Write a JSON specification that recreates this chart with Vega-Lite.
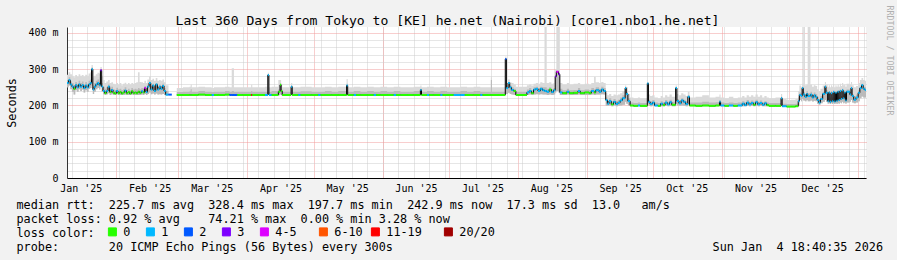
{
  "$schema": "https://vega.github.io/schema/vega-lite/v6.json",
  "width": 799,
  "height": 151,
  "autosize": {"type": "none"},
  "padding": {"left": 67, "top": 27, "right": 31, "bottom": 82},
  "background": "#f2f2f2",
  "config": {"view": {"fill": "#ffffff", "stroke": null}},
  "data": {"values": [
    {"d":"2025-01-09T18:00","m":262,"lo":250,"hi":285,"h2":270,"l":"1"},
    {"d":"2025-01-10T12:00","m":270,"lo":255,"hi":292,"h2":278,"l":"1"},
    {"d":"2025-01-11T06:00","m":258,"lo":245,"hi":286,"h2":266,"l":"1"},
    {"d":"2025-01-12T00:00","m":252,"lo":238,"hi":282,"h2":262,"l":"1"},
    {"d":"2025-01-12T18:00","m":246,"lo":230,"hi":278,"h2":256,"l":"0"},
    {"d":"2025-01-13T12:00","m":256,"lo":242,"hi":284,"h2":265,"l":"1"},
    {"d":"2025-01-14T06:00","m":250,"lo":238,"hi":280,"h2":260,"l":"1"},
    {"d":"2025-01-15T00:00","m":258,"lo":245,"hi":286,"h2":268,"l":"1"},
    {"d":"2025-01-15T18:00","m":252,"lo":240,"hi":282,"h2":262,"l":"1"},
    {"d":"2025-01-16T12:00","m":256,"lo":244,"hi":284,"h2":266,"l":"1"},
    {"d":"2025-01-17T06:00","m":248,"lo":236,"hi":280,"h2":258,"l":"1"},
    {"d":"2025-01-18T00:00","m":255,"lo":242,"hi":285,"h2":265,"l":"1"},
    {"d":"2025-01-18T18:00","m":250,"lo":238,"hi":282,"h2":260,"l":"1"},
    {"d":"2025-01-19T12:00","m":258,"lo":246,"hi":288,"h2":268,"l":"1"},
    {"d":"2025-01-20T06:00","m":262,"lo":248,"hi":292,"h2":272,"l":"1"},
    {"d":"2025-01-20T20:00","m":300,"lo":255,"hi":312,"h2":305,"l":"1"},
    {"d":"2025-01-21T10:00","m":244,"lo":232,"hi":278,"h2":256,"l":"1"},
    {"d":"2025-01-22T00:00","m":252,"lo":238,"hi":282,"h2":262,"l":"1"},
    {"d":"2025-01-22T18:00","m":258,"lo":245,"hi":286,"h2":268,"l":"1"},
    {"d":"2025-01-23T12:00","m":262,"lo":248,"hi":290,"h2":272,"l":"1"},
    {"d":"2025-01-24T06:00","m":256,"lo":244,"hi":288,"h2":266,"l":"1"},
    {"d":"2025-01-24T20:00","m":297,"lo":252,"hi":306,"h2":300,"l":"3"},
    {"d":"2025-01-25T10:00","m":252,"lo":238,"hi":282,"h2":262,"l":"1"},
    {"d":"2025-01-26T00:00","m":240,"lo":231,"hi":270,"h2":252,"l":"1"},
    {"d":"2025-01-26T18:00","m":234,"lo":229,"hi":262,"h2":246,"l":"0"},
    {"d":"2025-01-27T12:00","m":240,"lo":231,"hi":266,"h2":250,"l":"1"},
    {"d":"2025-01-28T06:00","m":252,"lo":234,"hi":270,"h2":258,"l":"1"},
    {"d":"2025-01-29T00:00","m":237,"lo":229,"hi":262,"h2":247,"l":"0"},
    {"d":"2025-01-29T18:00","m":243,"lo":231,"hi":264,"h2":252,"l":"1"},
    {"d":"2025-01-30T12:00","m":235,"lo":229,"hi":260,"h2":245,"l":"0"},
    {"d":"2025-01-31T06:00","m":233,"lo":229,"hi":258,"h2":243,"l":"0"},
    {"d":"2025-02-01T00:00","m":240,"lo":231,"hi":262,"h2":249,"l":"1"},
    {"d":"2025-02-01T18:00","m":234,"lo":229,"hi":258,"h2":244,"l":"0"},
    {"d":"2025-02-02T12:00","m":237,"lo":229,"hi":262,"h2":246,"l":"0"},
    {"d":"2025-02-03T06:00","m":233,"lo":229,"hi":256,"h2":242,"l":"0"},
    {"d":"2025-02-04T00:00","m":236,"lo":229,"hi":260,"h2":245,"l":"0"},
    {"d":"2025-02-04T18:00","m":241,"lo":230,"hi":263,"h2":250,"l":"1"},
    {"d":"2025-02-05T12:00","m":234,"lo":229,"hi":258,"h2":243,"l":"0"},
    {"d":"2025-02-06T06:00","m":237,"lo":229,"hi":262,"h2":246,"l":"0"},
    {"d":"2025-02-07T00:00","m":233,"lo":229,"hi":258,"h2":242,"l":"0"},
    {"d":"2025-02-07T18:00","m":239,"lo":230,"hi":262,"h2":248,"l":"0"},
    {"d":"2025-02-08T12:00","m":234,"lo":229,"hi":260,"h2":244,"l":"0"},
    {"d":"2025-02-09T06:00","m":236,"lo":229,"hi":262,"h2":246,"l":"0"},
    {"d":"2025-02-10T00:00","m":234,"lo":229,"hi":264,"h2":244,"l":"0"},
    {"d":"2025-02-10T18:00","m":238,"lo":229,"hi":292,"h2":248,"l":"0"},
    {"d":"2025-02-11T12:00","m":235,"lo":229,"hi":265,"h2":245,"l":"0"},
    {"d":"2025-02-12T06:00","m":239,"lo":230,"hi":264,"h2":248,"l":"1"},
    {"d":"2025-02-13T00:00","m":236,"lo":229,"hi":262,"h2":246,"l":"0"},
    {"d":"2025-02-13T16:00","m":248,"lo":232,"hi":268,"h2":254,"l":"4-5"},
    {"d":"2025-02-14T08:00","m":237,"lo":229,"hi":262,"h2":246,"l":"1"},
    {"d":"2025-02-15T00:00","m":252,"lo":232,"hi":272,"h2":258,"l":"1"},
    {"d":"2025-02-15T18:00","m":262,"lo":236,"hi":280,"h2":266,"l":"1"},
    {"d":"2025-02-16T12:00","m":244,"lo":231,"hi":270,"h2":254,"l":"1"},
    {"d":"2025-02-17T06:00","m":255,"lo":233,"hi":274,"h2":260,"l":"1"},
    {"d":"2025-02-18T00:00","m":240,"lo":230,"hi":268,"h2":250,"l":"1"},
    {"d":"2025-02-18T18:00","m":258,"lo":233,"hi":276,"h2":262,"l":"1"},
    {"d":"2025-02-19T12:00","m":244,"lo":230,"hi":268,"h2":252,"l":"1"},
    {"d":"2025-02-20T06:00","m":252,"lo":231,"hi":270,"h2":258,"l":"1"},
    {"d":"2025-02-21T00:00","m":246,"lo":230,"hi":268,"h2":254,"l":"1"},
    {"d":"2025-02-21T18:00","m":254,"lo":232,"hi":272,"h2":260,"l":"1"},
    {"d":"2025-02-22T12:00","m":240,"lo":229,"hi":264,"h2":248,"l":"1"},
    {"d":"2025-02-23T06:00","m":230,"lo":228,"hi":256,"h2":240,"l":"1"},
    {"d":"2025-02-24T12:00","m":230,"lo":228,"hi":254,"h2":238,"l":"2"},
    {"d":"2025-02-26T00:00","m":null,"lo":null,"hi":null,"h2":null,"l":"0"},
    {"d":"2025-02-28T06:00","m":229,"lo":228,"hi":248,"h2":237,"l":"0"},
    {"d":"2025-03-03T00:00","m":229,"lo":228,"hi":250,"h2":238,"l":"0"},
    {"d":"2025-03-06T00:00","m":229,"lo":228,"hi":252,"h2":239,"l":"0"},
    {"d":"2025-03-06T12:00","m":229,"lo":228,"hi":258,"h2":245,"l":"0"},
    {"d":"2025-03-07T00:00","m":229,"lo":228,"hi":250,"h2":238,"l":"0"},
    {"d":"2025-03-10T00:00","m":230,"lo":228,"hi":252,"h2":240,"l":"0"},
    {"d":"2025-03-13T00:00","m":229,"lo":228,"hi":250,"h2":238,"l":"0"},
    {"d":"2025-03-16T00:00","m":229,"lo":228,"hi":248,"h2":237,"l":"1"},
    {"d":"2025-03-17T00:00","m":229,"lo":228,"hi":250,"h2":238,"l":"0"},
    {"d":"2025-03-19T00:00","m":229,"lo":228,"hi":250,"h2":238,"l":"0"},
    {"d":"2025-03-22T00:00","m":230,"lo":228,"hi":252,"h2":240,"l":"0"},
    {"d":"2025-03-24T00:00","m":229,"lo":228,"hi":250,"h2":238,"l":"2"},
    {"d":"2025-03-25T00:00","m":229,"lo":228,"hi":303,"h2":240,"l":"2"},
    {"d":"2025-03-26T00:00","m":229,"lo":228,"hi":250,"h2":238,"l":"2"},
    {"d":"2025-03-27T12:00","m":229,"lo":228,"hi":250,"h2":238,"l":"0"},
    {"d":"2025-03-30T00:00","m":229,"lo":228,"hi":250,"h2":238,"l":"0"},
    {"d":"2025-04-02T18:00","m":229,"lo":228,"hi":257,"h2":240,"l":"11-19"},
    {"d":"2025-04-03T06:00","m":229,"lo":228,"hi":250,"h2":238,"l":"0"},
    {"d":"2025-04-06T00:00","m":229,"lo":228,"hi":250,"h2":238,"l":"0"},
    {"d":"2025-04-09T00:00","m":229,"lo":228,"hi":252,"h2":238,"l":"1"},
    {"d":"2025-04-10T06:00","m":284,"lo":232,"hi":290,"h2":286,"l":"1"},
    {"d":"2025-04-10T18:00","m":229,"lo":228,"hi":250,"h2":238,"l":"1"},
    {"d":"2025-04-12T00:00","m":229,"lo":228,"hi":252,"h2":240,"l":"0"},
    {"d":"2025-04-15T00:00","m":238,"lo":228,"hi":270,"h2":245,"l":"0"},
    {"d":"2025-04-15T18:00","m":257,"lo":230,"hi":270,"h2":260,"l":"0"},
    {"d":"2025-04-16T06:00","m":240,"lo":228,"hi":260,"h2":245,"l":"0"},
    {"d":"2025-04-16T18:00","m":229,"lo":228,"hi":250,"h2":238,"l":"0"},
    {"d":"2025-04-20T18:00","m":252,"lo":229,"hi":262,"h2":255,"l":"1"},
    {"d":"2025-04-21T06:00","m":229,"lo":228,"hi":250,"h2":238,"l":"0"},
    {"d":"2025-04-24T00:00","m":229,"lo":228,"hi":250,"h2":238,"l":"1"},
    {"d":"2025-04-25T00:00","m":229,"lo":228,"hi":252,"h2":239,"l":"0"},
    {"d":"2025-04-27T00:00","m":229,"lo":228,"hi":252,"h2":239,"l":"0"},
    {"d":"2025-04-30T00:00","m":229,"lo":228,"hi":250,"h2":238,"l":"0"},
    {"d":"2025-05-03T00:00","m":229,"lo":228,"hi":250,"h2":238,"l":"1"},
    {"d":"2025-05-04T00:00","m":229,"lo":228,"hi":250,"h2":238,"l":"0"},
    {"d":"2025-05-06T00:00","m":229,"lo":228,"hi":252,"h2":240,"l":"0"},
    {"d":"2025-05-09T00:00","m":229,"lo":228,"hi":250,"h2":238,"l":"0"},
    {"d":"2025-05-12T00:00","m":229,"lo":228,"hi":252,"h2":240,"l":"0"},
    {"d":"2025-05-15T18:00","m":255,"lo":230,"hi":273,"h2":260,"l":"1"},
    {"d":"2025-05-16T06:00","m":229,"lo":228,"hi":250,"h2":238,"l":"0"},
    {"d":"2025-05-19T00:00","m":229,"lo":228,"hi":252,"h2":240,"l":"1"},
    {"d":"2025-05-20T00:00","m":229,"lo":228,"hi":252,"h2":240,"l":"0"},
    {"d":"2025-05-22T00:00","m":229,"lo":228,"hi":250,"h2":238,"l":"0"},
    {"d":"2025-05-25T00:00","m":229,"lo":228,"hi":252,"h2":240,"l":"0"},
    {"d":"2025-05-28T00:00","m":229,"lo":228,"hi":250,"h2":238,"l":"1"},
    {"d":"2025-05-29T00:00","m":229,"lo":228,"hi":250,"h2":238,"l":"0"},
    {"d":"2025-05-31T00:00","m":229,"lo":228,"hi":252,"h2":240,"l":"0"},
    {"d":"2025-06-03T00:00","m":229,"lo":228,"hi":250,"h2":238,"l":"0"},
    {"d":"2025-06-06T00:00","m":229,"lo":228,"hi":252,"h2":240,"l":"1"},
    {"d":"2025-06-07T00:00","m":229,"lo":228,"hi":252,"h2":240,"l":"0"},
    {"d":"2025-06-09T00:00","m":229,"lo":228,"hi":250,"h2":238,"l":"0"},
    {"d":"2025-06-12T00:00","m":229,"lo":228,"hi":250,"h2":238,"l":"0"},
    {"d":"2025-06-15T00:00","m":229,"lo":228,"hi":252,"h2":240,"l":"0"},
    {"d":"2025-06-18T00:00","m":243,"lo":229,"hi":255,"h2":246,"l":"1"},
    {"d":"2025-06-18T12:00","m":229,"lo":228,"hi":250,"h2":238,"l":"0"},
    {"d":"2025-06-21T00:00","m":229,"lo":228,"hi":252,"h2":240,"l":"1"},
    {"d":"2025-06-22T00:00","m":229,"lo":228,"hi":252,"h2":240,"l":"0"},
    {"d":"2025-06-24T00:00","m":229,"lo":228,"hi":250,"h2":238,"l":"0"},
    {"d":"2025-06-27T00:00","m":229,"lo":228,"hi":252,"h2":240,"l":"1"},
    {"d":"2025-06-28T00:00","m":229,"lo":228,"hi":252,"h2":240,"l":"0"},
    {"d":"2025-06-30T00:00","m":229,"lo":228,"hi":250,"h2":238,"l":"0"},
    {"d":"2025-07-03T00:00","m":229,"lo":228,"hi":250,"h2":238,"l":"1"},
    {"d":"2025-07-06T00:00","m":229,"lo":228,"hi":252,"h2":240,"l":"1"},
    {"d":"2025-07-08T00:00","m":229,"lo":228,"hi":252,"h2":240,"l":"0"},
    {"d":"2025-07-09T00:00","m":229,"lo":228,"hi":250,"h2":238,"l":"0"},
    {"d":"2025-07-12T00:00","m":229,"lo":228,"hi":252,"h2":240,"l":"0"},
    {"d":"2025-07-15T00:00","m":229,"lo":228,"hi":250,"h2":238,"l":"1"},
    {"d":"2025-07-16T00:00","m":229,"lo":228,"hi":250,"h2":238,"l":"0"},
    {"d":"2025-07-19T18:00","m":229,"lo":228,"hi":278,"h2":270,"l":"0"},
    {"d":"2025-07-20T06:00","m":229,"lo":228,"hi":250,"h2":238,"l":"0"},
    {"d":"2025-07-23T00:00","m":229,"lo":228,"hi":250,"h2":238,"l":"0"},
    {"d":"2025-07-26T06:00","m":328,"lo":232,"hi":335,"h2":330,"l":"2"},
    {"d":"2025-07-26T18:00","m":248,"lo":232,"hi":262,"h2":252,"l":"1"},
    {"d":"2025-07-27T12:00","m":262,"lo":235,"hi":272,"h2":265,"l":"1"},
    {"d":"2025-07-28T06:00","m":250,"lo":232,"hi":265,"h2":255,"l":"1"},
    {"d":"2025-07-29T00:00","m":243,"lo":230,"hi":262,"h2":250,"l":"1"},
    {"d":"2025-07-30T00:00","m":240,"lo":229,"hi":258,"h2":246,"l":"0"},
    {"d":"2025-07-31T00:00","m":229,"lo":228,"hi":252,"h2":238,"l":"0"},
    {"d":"2025-08-05T00:00","m":236,"lo":229,"hi":256,"h2":244,"l":"1"},
    {"d":"2025-08-06T00:00","m":240,"lo":230,"hi":258,"h2":248,"l":"1"},
    {"d":"2025-08-07T00:00","m":234,"lo":229,"hi":255,"h2":242,"l":"0"},
    {"d":"2025-08-08T00:00","m":244,"lo":230,"hi":260,"h2":250,"l":"1"},
    {"d":"2025-08-09T00:00","m":246,"lo":231,"hi":262,"h2":252,"l":"1"},
    {"d":"2025-08-10T00:00","m":240,"lo":230,"hi":260,"h2":248,"l":"1"},
    {"d":"2025-08-11T00:00","m":246,"lo":231,"hi":264,"h2":252,"l":"1"},
    {"d":"2025-08-12T00:00","m":242,"lo":230,"hi":262,"h2":250,"l":"1"},
    {"d":"2025-08-12T22:00","m":240,"lo":230,"hi":450,"h2":250,"l":"1"},
    {"d":"2025-08-13T22:00","m":238,"lo":229,"hi":262,"h2":246,"l":"1"},
    {"d":"2025-08-15T00:00","m":244,"lo":230,"hi":264,"h2":250,"l":"0"},
    {"d":"2025-08-16T00:00","m":237,"lo":229,"hi":260,"h2":245,"l":"1"},
    {"d":"2025-08-17T00:00","m":242,"lo":230,"hi":262,"h2":248,"l":"1"},
    {"d":"2025-08-17T18:00","m":280,"lo":236,"hi":300,"h2":285,"l":"3"},
    {"d":"2025-08-18T06:00","m":293,"lo":240,"hi":450,"h2":296,"l":"4-5"},
    {"d":"2025-08-19T06:00","m":286,"lo":236,"hi":450,"h2":290,"l":"3"},
    {"d":"2025-08-19T20:00","m":236,"lo":229,"hi":262,"h2":246,"l":"1"},
    {"d":"2025-08-21T00:00","m":234,"lo":229,"hi":258,"h2":242,"l":"0"},
    {"d":"2025-08-23T00:00","m":238,"lo":230,"hi":262,"h2":246,"l":"1"},
    {"d":"2025-08-24T00:00","m":234,"lo":229,"hi":258,"h2":242,"l":"0"},
    {"d":"2025-08-26T00:00","m":235,"lo":229,"hi":260,"h2":243,"l":"0"},
    {"d":"2025-08-28T00:00","m":240,"lo":230,"hi":262,"h2":248,"l":"1"},
    {"d":"2025-08-29T00:00","m":234,"lo":229,"hi":258,"h2":242,"l":"0"},
    {"d":"2025-08-31T00:00","m":236,"lo":229,"hi":260,"h2":244,"l":"0"},
    {"d":"2025-09-02T00:00","m":234,"lo":229,"hi":258,"h2":242,"l":"0"},
    {"d":"2025-09-03T00:00","m":240,"lo":230,"hi":262,"h2":248,"l":"1"},
    {"d":"2025-09-04T06:00","m":236,"lo":229,"hi":279,"h2":244,"l":"0"},
    {"d":"2025-09-05T00:00","m":242,"lo":230,"hi":264,"h2":250,"l":"1"},
    {"d":"2025-09-06T12:00","m":238,"lo":230,"hi":262,"h2":246,"l":"1"},
    {"d":"2025-09-07T12:00","m":244,"lo":231,"hi":265,"h2":252,"l":"1"},
    {"d":"2025-09-08T12:00","m":240,"lo":230,"hi":262,"h2":248,"l":"1"},
    {"d":"2025-09-09T12:00","m":215,"lo":199,"hi":235,"h2":222,"l":"1"},
    {"d":"2025-09-10T06:00","m":205,"lo":199,"hi":228,"h2":214,"l":"1"},
    {"d":"2025-09-11T00:00","m":212,"lo":200,"hi":232,"h2":220,"l":"1"},
    {"d":"2025-09-12T00:00","m":203,"lo":198,"hi":226,"h2":212,"l":"0"},
    {"d":"2025-09-13T00:00","m":210,"lo":200,"hi":230,"h2":218,"l":"1"},
    {"d":"2025-09-14T00:00","m":204,"lo":198,"hi":228,"h2":213,"l":"1"},
    {"d":"2025-09-15T00:00","m":208,"lo":199,"hi":230,"h2":216,"l":"1"},
    {"d":"2025-09-16T00:00","m":214,"lo":200,"hi":234,"h2":222,"l":"1"},
    {"d":"2025-09-17T00:00","m":220,"lo":202,"hi":240,"h2":228,"l":"1"},
    {"d":"2025-09-18T06:00","m":248,"lo":210,"hi":255,"h2":250,"l":"1"},
    {"d":"2025-09-18T18:00","m":232,"lo":205,"hi":250,"h2":238,"l":"1"},
    {"d":"2025-09-19T12:00","m":212,"lo":200,"hi":232,"h2":220,"l":"1"},
    {"d":"2025-09-20T12:00","m":200,"lo":198,"hi":222,"h2":208,"l":"0"},
    {"d":"2025-09-22T00:00","m":199,"lo":198,"hi":220,"h2":207,"l":"0"},
    {"d":"2025-09-24T00:00","m":200,"lo":198,"hi":222,"h2":208,"l":"1"},
    {"d":"2025-09-25T00:00","m":199,"lo":198,"hi":220,"h2":207,"l":"0"},
    {"d":"2025-09-28T06:00","m":261,"lo":205,"hi":265,"h2":262,"l":"1"},
    {"d":"2025-09-28T18:00","m":210,"lo":199,"hi":230,"h2":216,"l":"1"},
    {"d":"2025-09-29T12:00","m":204,"lo":198,"hi":226,"h2":212,"l":"1"},
    {"d":"2025-09-30T12:00","m":208,"lo":199,"hi":228,"h2":215,"l":"1"},
    {"d":"2025-10-01T12:00","m":200,"lo":198,"hi":222,"h2":208,"l":"1"},
    {"d":"2025-10-03T00:00","m":199,"lo":198,"hi":220,"h2":207,"l":"0"},
    {"d":"2025-10-04T06:00","m":205,"lo":198,"hi":226,"h2":212,"l":"1"},
    {"d":"2025-10-05T06:00","m":201,"lo":198,"hi":222,"h2":209,"l":"0"},
    {"d":"2025-10-06T06:00","m":208,"lo":199,"hi":228,"h2":215,"l":"1"},
    {"d":"2025-10-07T06:00","m":203,"lo":198,"hi":224,"h2":210,"l":"1"},
    {"d":"2025-10-08T06:00","m":209,"lo":199,"hi":230,"h2":216,"l":"1"},
    {"d":"2025-10-09T06:00","m":202,"lo":198,"hi":224,"h2":210,"l":"0"},
    {"d":"2025-10-11T00:00","m":248,"lo":205,"hi":255,"h2":250,"l":"1"},
    {"d":"2025-10-11T14:00","m":212,"lo":200,"hi":232,"h2":218,"l":"1"},
    {"d":"2025-10-12T12:00","m":206,"lo":199,"hi":228,"h2":214,"l":"1"},
    {"d":"2025-10-13T12:00","m":214,"lo":200,"hi":234,"h2":220,"l":"1"},
    {"d":"2025-10-14T12:00","m":210,"lo":199,"hi":230,"h2":216,"l":"1"},
    {"d":"2025-10-15T12:00","m":204,"lo":198,"hi":226,"h2":212,"l":"1"},
    {"d":"2025-10-16T12:00","m":224,"lo":202,"hi":238,"h2":228,"l":"1"},
    {"d":"2025-10-17T06:00","m":200,"lo":198,"hi":222,"h2":208,"l":"0"},
    {"d":"2025-10-20T00:00","m":199,"lo":198,"hi":224,"h2":208,"l":"0"},
    {"d":"2025-10-23T00:00","m":200,"lo":198,"hi":228,"h2":210,"l":"0"},
    {"d":"2025-10-26T00:00","m":199,"lo":198,"hi":222,"h2":208,"l":"0"},
    {"d":"2025-10-29T00:00","m":200,"lo":198,"hi":224,"h2":209,"l":"0"},
    {"d":"2025-10-30T18:00","m":210,"lo":199,"hi":230,"h2":215,"l":"1"},
    {"d":"2025-10-31T06:00","m":200,"lo":198,"hi":222,"h2":208,"l":"1"},
    {"d":"2025-11-02T00:00","m":199,"lo":198,"hi":220,"h2":207,"l":"0"},
    {"d":"2025-11-04T00:00","m":200,"lo":198,"hi":224,"h2":208,"l":"1"},
    {"d":"2025-11-06T00:00","m":199,"lo":198,"hi":220,"h2":207,"l":"0"},
    {"d":"2025-11-08T00:00","m":200,"lo":198,"hi":222,"h2":208,"l":"1"},
    {"d":"2025-11-10T00:00","m":205,"lo":198,"hi":226,"h2":212,"l":"1"},
    {"d":"2025-11-11T00:00","m":201,"lo":198,"hi":222,"h2":209,"l":"1"},
    {"d":"2025-11-12T00:00","m":208,"lo":199,"hi":228,"h2":215,"l":"1"},
    {"d":"2025-11-13T00:00","m":203,"lo":198,"hi":224,"h2":210,"l":"1"},
    {"d":"2025-11-14T00:00","m":207,"lo":199,"hi":228,"h2":214,"l":"1"},
    {"d":"2025-11-15T00:00","m":202,"lo":198,"hi":224,"h2":210,"l":"0"},
    {"d":"2025-11-16T00:00","m":209,"lo":199,"hi":230,"h2":216,"l":"1"},
    {"d":"2025-11-17T00:00","m":203,"lo":198,"hi":224,"h2":210,"l":"1"},
    {"d":"2025-11-18T00:00","m":207,"lo":199,"hi":228,"h2":214,"l":"1"},
    {"d":"2025-11-19T00:00","m":202,"lo":198,"hi":222,"h2":209,"l":"1"},
    {"d":"2025-11-20T00:00","m":206,"lo":198,"hi":226,"h2":212,"l":"1"},
    {"d":"2025-11-21T00:00","m":201,"lo":198,"hi":222,"h2":208,"l":"0"},
    {"d":"2025-11-22T00:00","m":199,"lo":198,"hi":220,"h2":207,"l":"0"},
    {"d":"2025-11-25T00:00","m":199,"lo":198,"hi":222,"h2":207,"l":"0"},
    {"d":"2025-11-27T12:00","m":220,"lo":199,"hi":232,"h2":224,"l":"1"},
    {"d":"2025-11-28T00:00","m":198,"lo":197,"hi":218,"h2":205,"l":"1"},
    {"d":"2025-11-30T00:00","m":197,"lo":197,"hi":215,"h2":204,"l":"0"},
    {"d":"2025-12-02T00:00","m":197,"lo":197,"hi":216,"h2":204,"l":"0"},
    {"d":"2025-12-04T00:00","m":198,"lo":197,"hi":218,"h2":205,"l":"0"},
    {"d":"2025-12-05T06:00","m":212,"lo":200,"hi":240,"h2":222,"l":"1"},
    {"d":"2025-12-05T18:00","m":229,"lo":215,"hi":255,"h2":236,"l":"1"},
    {"d":"2025-12-06T12:00","m":226,"lo":212,"hi":252,"h2":234,"l":"1"},
    {"d":"2025-12-07T00:00","m":248,"lo":218,"hi":260,"h2":252,"l":"1"},
    {"d":"2025-12-07T12:00","m":230,"lo":214,"hi":450,"h2":238,"l":"1"},
    {"d":"2025-12-08T06:00","m":224,"lo":212,"hi":256,"h2":232,"l":"1"},
    {"d":"2025-12-09T00:00","m":232,"lo":215,"hi":258,"h2":240,"l":"1"},
    {"d":"2025-12-09T12:00","m":226,"lo":212,"hi":450,"h2":234,"l":"1"},
    {"d":"2025-12-10T18:00","m":230,"lo":214,"hi":258,"h2":238,"l":"1"},
    {"d":"2025-12-11T12:00","m":222,"lo":211,"hi":252,"h2":230,"l":"1"},
    {"d":"2025-12-12T06:00","m":228,"lo":213,"hi":256,"h2":236,"l":"1"},
    {"d":"2025-12-13T00:00","m":224,"lo":212,"hi":254,"h2":232,"l":"1"},
    {"d":"2025-12-13T18:00","m":215,"lo":205,"hi":245,"h2":224,"l":"1"},
    {"d":"2025-12-14T12:00","m":208,"lo":202,"hi":240,"h2":218,"l":"1"},
    {"d":"2025-12-15T06:00","m":218,"lo":206,"hi":246,"h2":226,"l":"1"},
    {"d":"2025-12-16T06:00","m":232,"lo":210,"hi":255,"h2":238,"l":"1"},
    {"d":"2025-12-17T06:00","m":252,"lo":215,"hi":265,"h2":256,"l":"1"},
    {"d":"2025-12-17T18:00","m":235,"lo":210,"hi":258,"h2":242,"l":"1"},
    {"d":"2025-12-18T12:00","m":212,"lo":205,"hi":250,"h2":222,"l":"1"},
    {"d":"2025-12-19T00:00","m":236,"lo":206,"hi":256,"h2":240,"l":"1"},
    {"d":"2025-12-19T12:00","m":210,"lo":204,"hi":250,"h2":222,"l":"1"},
    {"d":"2025-12-20T00:00","m":234,"lo":206,"hi":256,"h2":240,"l":"1"},
    {"d":"2025-12-20T12:00","m":212,"lo":204,"hi":252,"h2":222,"l":"1"},
    {"d":"2025-12-21T00:00","m":237,"lo":206,"hi":258,"h2":242,"l":"1"},
    {"d":"2025-12-21T12:00","m":211,"lo":204,"hi":250,"h2":222,"l":"1"},
    {"d":"2025-12-22T00:00","m":235,"lo":206,"hi":256,"h2":240,"l":"1"},
    {"d":"2025-12-22T12:00","m":213,"lo":204,"hi":252,"h2":222,"l":"1"},
    {"d":"2025-12-23T00:00","m":238,"lo":206,"hi":258,"h2":242,"l":"1"},
    {"d":"2025-12-23T12:00","m":215,"lo":205,"hi":252,"h2":224,"l":"1"},
    {"d":"2025-12-24T00:00","m":240,"lo":208,"hi":260,"h2":244,"l":"1"},
    {"d":"2025-12-24T12:00","m":218,"lo":206,"hi":254,"h2":226,"l":"1"},
    {"d":"2025-12-25T00:00","m":242,"lo":210,"hi":262,"h2":246,"l":"1"},
    {"d":"2025-12-25T12:00","m":220,"lo":206,"hi":256,"h2":228,"l":"1"},
    {"d":"2025-12-26T00:00","m":236,"lo":208,"hi":258,"h2":242,"l":"1"},
    {"d":"2025-12-26T12:00","m":214,"lo":205,"hi":252,"h2":224,"l":"1"},
    {"d":"2025-12-27T00:00","m":238,"lo":208,"hi":260,"h2":244,"l":"1"},
    {"d":"2025-12-28T12:00","m":230,"lo":210,"hi":258,"h2":236,"l":"1"},
    {"d":"2025-12-29T00:00","m":248,"lo":215,"hi":265,"h2":252,"l":"1"},
    {"d":"2025-12-29T12:00","m":226,"lo":208,"hi":256,"h2":232,"l":"1"},
    {"d":"2025-12-30T06:00","m":216,"lo":206,"hi":250,"h2":226,"l":"1"},
    {"d":"2025-12-31T06:00","m":222,"lo":208,"hi":254,"h2":230,"l":"1"},
    {"d":"2026-01-01T06:00","m":235,"lo":212,"hi":262,"h2":242,"l":"1"},
    {"d":"2026-01-02T00:00","m":248,"lo":220,"hi":270,"h2":252,"l":"1"},
    {"d":"2026-01-02T18:00","m":256,"lo":225,"hi":276,"h2":260,"l":"1"},
    {"d":"2026-01-03T12:00","m":246,"lo":222,"hi":270,"h2":252,"l":"1"},
    {"d":"2026-01-04T06:00","m":243,"lo":222,"hi":268,"h2":250,"l":"1"},
    {"d":"2026-01-04T18:40","m":243,"lo":222,"hi":268,"h2":250,"l":"1"}
  ]},
  "resolve": {"axis": {"x": "independent", "y": "independent"}},
  "layer": [
    {
      "mark": {"type": "area", "interpolate": "step-after", "color": "#dadada", "clip": true},
      "encoding": {
        "x": {"field": "d", "type": "temporal",
          "scale": {"domain": [{"year": 2025, "month": 1, "date": 9, "hours": 18, "minutes": 40, "seconds": 35}, {"year": 2026, "month": 1, "date": 4, "hours": 18, "minutes": 40, "seconds": 35}]},
          "axis": {"orient": "top", "grid": true, "gridColor": "#cccccc", "gridDash": [1, 1], "gridWidth": 1,
            "tickCount": {"interval": "week", "step": 1}, "labels": false, "ticks": false, "domain": false,
            "title": "Last 360 Days from Tokyo to [KE] he.net (Nairobi) [core1.nbo1.he.net]",
            "titleX": 380, "titleY": -3, "titleAlign": "center", "titleBaseline": "alphabetic", "titleAngle": 0,
            "titleFont": "DejaVu Sans Mono", "titleFontSize": 13.1, "titleFontWeight": "normal", "titleColor": "#000000"}},
        "y": {"field": "lo", "type": "quantitative",
          "scale": {"domain": [0, 416.5], "nice": false, "zero": true},
          "axis": {"orient": "right", "grid": true, "gridColor": "#cccccc", "gridDash": [1, 1],
            "values": [20, 40, 60, 80, 120, 140, 160, 180, 220, 240, 260, 280, 320, 340, 360, 380],
            "labels": false, "ticks": false, "domain": false,
            "title": "RRDTOOL / TOBI OETIKER", "titleAngle": 90, "titleX": 22, "titleY": 33,
            "titleAlign": "center", "titleBaseline": "middle",
            "titleFont": "DejaVu Sans Mono", "titleFontSize": 8.3, "titleFontWeight": "normal", "titleColor": "#b0b0b0"}},
        "y2": {"field": "hi"}
      }
    },
    {
      "mark": {"type": "area", "interpolate": "step-after", "color": "#bababa", "clip": true},
      "encoding": {
        "x": {"field": "d", "type": "temporal",
          "scale": {"domain": [{"year": 2025, "month": 1, "date": 9, "hours": 18, "minutes": 40, "seconds": 35}, {"year": 2026, "month": 1, "date": 4, "hours": 18, "minutes": 40, "seconds": 35}]},
          "axis": {"orient": "bottom", "grid": true, "gridColor": "#f19c9c", "gridDash": [1, 1],
            "values": [
              {"year": 2025, "month": 2, "date": 1}, {"year": 2025, "month": 3, "date": 1}, {"year": 2025, "month": 4, "date": 1},
              {"year": 2025, "month": 5, "date": 1}, {"year": 2025, "month": 6, "date": 1}, {"year": 2025, "month": 7, "date": 1},
              {"year": 2025, "month": 8, "date": 1}, {"year": 2025, "month": 9, "date": 1}, {"year": 2025, "month": 10, "date": 1},
              {"year": 2025, "month": 11, "date": 1}, {"year": 2025, "month": 12, "date": 1}, {"year": 2026, "month": 1, "date": 1}],
            "labels": false, "ticks": false, "domain": true, "domainColor": "#000000", "domainWidth": 1, "title": null}},
        "y": {"field": "lo", "type": "quantitative",
          "scale": {"domain": [0, 416.5], "nice": false, "zero": true},
          "axis": {"orient": "left", "grid": true, "gridColor": "#f19c9c", "gridDash": [1, 1],
            "values": [0, 100, 200, 300, 400],
            "labelExpr": "datum.value == 0 ? '0' : datum.value + ' m'",
            "labelFont": "DejaVu Sans Mono", "labelFontSize": 10, "labelColor": "#000000", "labelPadding": 9,
            "ticks": false, "tickSize": 0, "domain": true, "domainColor": "#333333", "domainWidth": 1,
            "title": "Seconds", "titleAngle": 270, "titleX": -56, "titleY": 75.5, "titleAlign": "center", "titleBaseline": "middle",
            "titleFont": "DejaVu Sans Mono", "titleFontSize": 11.8, "titleFontWeight": "normal", "titleColor": "#000000"}},
        "y2": {"field": "h2"}
      }
    },
    {
      "mark": {"type": "line", "interpolate": "step-after", "color": "#000000", "strokeWidth": 1, "clip": true},
      "encoding": {
        "x": {"field": "d", "type": "temporal",
          "scale": {"domain": [{"year": 2025, "month": 1, "date": 9, "hours": 18, "minutes": 40, "seconds": 35}, {"year": 2026, "month": 1, "date": 4, "hours": 18, "minutes": 40, "seconds": 35}]},
          "axis": {"orient": "bottom", "grid": false, "ticks": false, "domain": false,
            "values": [
              {"year": 2025, "month": 1, "date": 16}, {"year": 2025, "month": 2, "date": 16}, {"year": 2025, "month": 3, "date": 16},
              {"year": 2025, "month": 4, "date": 16}, {"year": 2025, "month": 5, "date": 16}, {"year": 2025, "month": 6, "date": 16},
              {"year": 2025, "month": 7, "date": 16}, {"year": 2025, "month": 8, "date": 16}, {"year": 2025, "month": 9, "date": 16},
              {"year": 2025, "month": 10, "date": 16}, {"year": 2025, "month": 11, "date": 16}, {"year": 2025, "month": 12, "date": 16}],
            "format": "%b '%y", "labelFont": "DejaVu Sans Mono", "labelFontSize": 10, "labelColor": "#000000", "labelPadding": 5,
            "labelOverlap": false, "labelFlush": false,
            "title": [
              "median rtt:\u00a0\u00a0225.7 ms avg\u00a0\u00a0328.4 ms max\u00a0\u00a0197.7 ms min\u00a0\u00a0242.9 ms now\u00a0\u00a017.3 ms sd\u00a0\u00a013.0\u00a0\u00a0\u00a0am/s",
              "packet loss: 0.92 % avg\u00a0\u00a0\u00a0\u00a074.21 % max\u00a0\u00a00.00 % min 3.28 % now",
              "loss color:",
              "probe:\u00a0\u00a0\u00a0\u00a0\u00a0\u00a0\u00a020 ICMP Echo Pings (56 Bytes) every 300s\u00a0\u00a0\u00a0\u00a0\u00a0\u00a0\u00a0\u00a0\u00a0\u00a0\u00a0\u00a0\u00a0\u00a0\u00a0\u00a0\u00a0\u00a0\u00a0\u00a0\u00a0\u00a0\u00a0\u00a0\u00a0\u00a0\u00a0\u00a0\u00a0\u00a0\u00a0\u00a0\u00a0\u00a0\u00a0\u00a0\u00a0\u00a0\u00a0\u00a0\u00a0\u00a0\u00a0\u00a0\u00a0Sun Jan\u00a0\u00a04 18:40:35 2026"
            ],
            "titleX": -51, "titleY": 30.3, "titleAlign": "left", "titleBaseline": "alphabetic", "titleAngle": 0,
            "titleLineHeight": 14, "titleFont": "DejaVu Sans Mono", "titleFontSize": 11.8, "titleFontWeight": "normal", "titleColor": "#000000", "titleLimit": 0}},
        "y": {"field": "m", "type": "quantitative",
          "scale": {"domain": [0, 416.5], "nice": false, "zero": true}, "axis": null}
      }
    },
    {
      "transform": [
        {"window": [{"op": "lead", "field": "d", "as": "e"}], "sort": [{"field": "d", "order": "ascending"}]},
        {"filter": "datum.e != null && datum.m != null"}
      ],
      "mark": {"type": "rule", "strokeWidth": 2, "clip": true},
      "encoding": {
        "x": {"field": "d", "type": "temporal",
          "scale": {"domain": [{"year": 2025, "month": 1, "date": 9, "hours": 18, "minutes": 40, "seconds": 35}, {"year": 2026, "month": 1, "date": 4, "hours": 18, "minutes": 40, "seconds": 35}]},
          "axis": null},
        "x2": {"field": "e"},
        "y": {"field": "m", "type": "quantitative",
          "scale": {"domain": [0, 416.5], "nice": false, "zero": true}, "axis": null},
        "color": {"field": "l", "type": "nominal",
          "scale": {"domain": ["0", "1", "2", "3", "4-5", "6-10", "11-19", "20/20"],
                    "range": ["#26ff00", "#00b8ff", "#0059ff", "#7e00ff", "#dd00ff", "#ff5500", "#ff0000", "#a10000"]},
          "legend": {"orient": "none", "legendX": 39.5, "legendY": 199, "direction": "horizontal", "columns": 8,
            "gridAlign": "none", "title": null,
            "labelFont": "DejaVu Sans Mono", "labelFontSize": 11.8, "labelColor": "#000000", "labelOffset": 5, "labelLimit": 0,
            "labelExpr": "{'0':'0\u00a0\u00a0\u200b','1':'1\u00a0\u00a0\u200b','2':'2\u00a0\u00a0\u200b','3':'3\u00a0\u00a0\u200b','4-5':'4-5\u00a0\u00a0\u00a0\u200b','6-10':'6-10\u00a0\u200b','11-19':'11-19\u00a0\u00a0\u00a0\u200b','20/20':'20/20'}[datum.label]",
            "columnPadding": -2, "padding": 0, "symbolType": "square", "symbolSize": 64,
            "symbolStrokeColor": "#000000", "symbolStrokeWidth": 1,
            "encode": {"symbols": {"update": {
              "fill": {"scale": "color", "field": "value"},
              "stroke": {"value": "#000000"},
              "strokeWidth": {"value": 1},
              "shape": {"value": "square"},
              "size": {"value": 64},
              "opacity": {"value": 1}}}}}}
      }
    }
  ]
}
